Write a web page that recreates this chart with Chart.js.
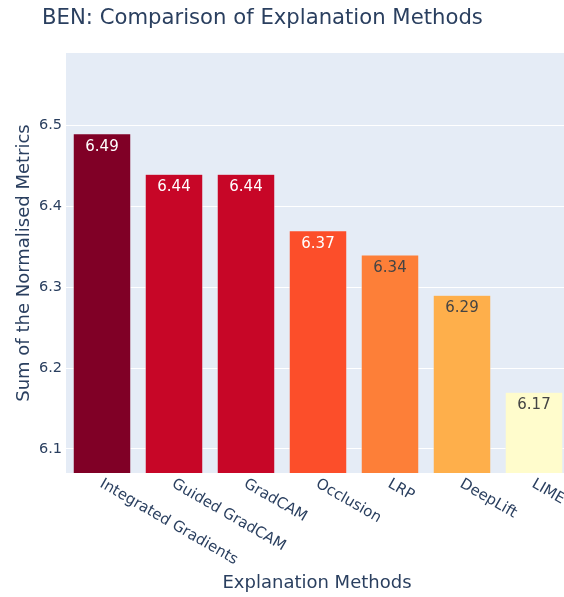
<!DOCTYPE html>
<html>
<head>
<meta charset="utf-8">
<script src="https://cdn.jsdelivr.net/npm/chart.js@4/dist/chart.umd.min.js"></script>
<style>
  html, body { margin: 0; padding: 0; background: #ffffff; overflow: hidden; }
  #wrap { width: 564px; height: 597px; overflow: hidden; position: relative; }
  canvas { display: block; }
</style>
</head>
<body>
<div id="wrap"><canvas id="chart" width="600" height="597"></canvas></div>
<script>
// Explanation methods and their summed normalised metric scores
const methods = ['Integrated Gradients', 'Guided GradCAM', 'GradCAM', 'Occlusion', 'LRP', 'DeepLift', 'LIME'];
const scores = [6.49, 6.44, 6.44, 6.37, 6.34, 6.29, 6.17];
const yTicks = [6.1, 6.2, 6.3, 6.4, 6.5];

// YlOrRd-style fill per bar (darkest for the highest score)
const barColors = ['rgb(128,0,38)', 'rgb(199,6,39)', 'rgb(199,6,39)', 'rgb(252,78,42)',
                   'rgb(253,127,56)', 'rgb(254,175,75)', 'rgb(255,252,204)'];

const FONT = '"DejaVu Sans", Verdana, sans-serif';
const INK = '#2a3f5f';

function isDark(rgb) {
  const m = rgb.match(/\d+/g).map(Number);
  const lum = 0.299 * m[0] + 0.587 * m[1] + 0.114 * m[2];
  return lum < 140;
}

const decorations = {
  id: 'decorations',
  beforeDraw(chart) {
    const { ctx, chartArea: a } = chart;
    ctx.save();
    ctx.fillStyle = '#E5ECF6';
    ctx.fillRect(a.left, a.top, a.right - a.left, a.bottom - a.top);
    ctx.restore();
  },
  afterDatasetsDraw(chart) {
    const { ctx, chartArea: a } = chart;
    const xScale = chart.scales.x;
    ctx.save();

    // value labels inside the top of each bar
    const meta = chart.getDatasetMeta(0);
    ctx.font = '15px ' + FONT;
    ctx.textAlign = 'center';
    ctx.textBaseline = 'alphabetic';
    meta.data.forEach((bar, i) => {
      ctx.fillStyle = isDark(barColors[i]) ? '#ffffff' : '#444444';
      ctx.fillText(scores[i].toFixed(2), bar.x, bar.y + 17);
    });

    // slanted category labels
    ctx.fillStyle = INK;
    ctx.font = '15px ' + FONT;
    ctx.textAlign = 'left';
    ctx.textBaseline = 'middle';
    methods.forEach((m, i) => {
      const x = xScale.getPixelForTick(i);
      ctx.save();
      ctx.translate(x - 1, a.bottom + 10);
      ctx.rotate(30 * Math.PI / 180);
      ctx.fillText(m, 0, 0);
      ctx.restore();
    });

    // chart title
    ctx.font = '21.2px ' + FONT;
    ctx.textAlign = 'left';
    ctx.textBaseline = 'alphabetic';
    ctx.fillText('BEN: Comparison of Explanation Methods', 42, 24);

    // axis titles
    ctx.font = '18px ' + FONT;
    ctx.textAlign = 'center';
    ctx.fillText('Explanation Methods', (a.left + a.right) / 2 - 1, 588);
    ctx.save();
    ctx.translate(29, (a.top + a.bottom) / 2);
    ctx.rotate(-Math.PI / 2);
    ctx.fillText('Sum of the Normalised Metrics', 0, 0);
    ctx.restore();

    ctx.restore();
  }
};

new Chart(document.getElementById('chart'), {
  type: 'bar',
  data: {
    labels: methods,
    datasets: [{
      data: scores,
      backgroundColor: barColors,
      borderColor: '#E5ECF6',
      borderWidth: 0.5,
      categoryPercentage: 1.0,
      barPercentage: 0.8
    }]
  },
  options: {
    responsive: false,
    animation: false,
    layout: { padding: { left: 0, top: 53, right: 30, bottom: 0 } },
    plugins: { legend: { display: false }, tooltip: { enabled: false }, title: { display: false } },
    scales: {
      x: {
        grid: { display: false },
        border: { display: false },
        ticks: { display: false },
        afterFit(scale) { scale.height = 124; }
      },
      y: {
        min: 6.07,
        max: 6.59,
        afterBuildTicks(scale) { scale.ticks = yTicks.map(v => ({ value: v })); },
        afterFit(scale) { scale.width = 66; },
        grid: { color: '#ffffff', lineWidth: 1, drawTicks: false },
        border: { display: false },
        ticks: {
          padding: 4,
          color: INK,
          font: { family: FONT, size: 14.5 },
          callback: v => v.toFixed(1)
        }
      }
    }
  },
  plugins: [decorations]
});
</script>
</body>
</html>
